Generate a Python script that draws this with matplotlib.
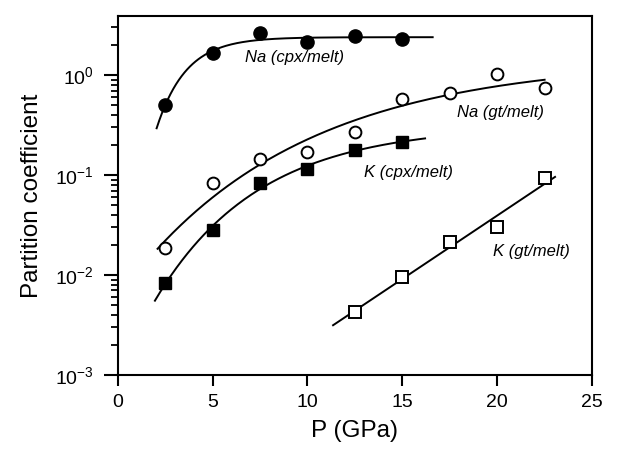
import numpy as np
import matplotlib
matplotlib.use("Agg")
import matplotlib.pyplot as plt
from matplotlib.ticker import LogLocator, FixedLocator

plt.rcParams['font.family'] = ['Liberation Sans', 'DejaVu Sans']
plt.rcParams['mathtext.fontset'] = 'custom'
plt.rcParams['mathtext.rm'] = 'Liberation Sans'
plt.rcParams['mathtext.it'] = 'Liberation Sans:italic'

# ---- data ----
P_na_cpx = [2.5, 5.0, 7.5, 10.0, 12.5, 15.0]
D_na_cpx = [0.50, 1.66, 2.63, 2.14, 2.45, 2.29]

P_na_gt = [2.5, 5.0, 7.5, 10.0, 12.5, 15.0, 17.5, 20.0, 22.5]
D_na_gt = [0.0186, 0.083, 0.144, 0.17, 0.27, 0.575, 0.66, 1.02, 0.74]

P_k_cpx = [2.5, 5.0, 7.5, 10.0, 12.5, 15.0]
D_k_cpx = [0.0083, 0.028, 0.083, 0.115, 0.178, 0.214]

P_k_gt = [12.5, 15.0, 17.5, 20.0, 22.5]
D_k_gt = [0.0043, 0.0095, 0.0214, 0.030, 0.093]

# extents of the fitted curves (GPa)
range_na_cpx = (2.05, 16.6)
range_na_gt = (2.1, 22.5)
range_k_cpx = (1.96, 16.2)
range_k_gt = (11.35, 23.05)

labels = ['Na (cpx/melt)', 'Na (gt/melt)', 'K (cpx/melt)', 'K (gt/melt)']
label_pos = [(6.7, 1.51), (17.9, 0.42), (13.0, 0.107), (19.8, 0.017)]

y_ticks = [1e-3, 1e-2, 1e-1, 1e0]
y_ticklabels = ['10$^{\\mathdefault{-3}}$', '10$^{\\mathdefault{-2}}$',
                '10$^{\\mathdefault{-1}}$', '10$^{\\mathdefault{0}}$']
x_ticks = [0, 5, 10, 15, 20, 25]


def fit_saturating(x, y):
    """fit log10 y = a - b*exp(-c x) by scanning c."""
    x = np.asarray(x, float)
    ly = np.log10(np.asarray(y, float))
    best = None
    for c in np.linspace(0.02, 1.5, 600):
        A = np.column_stack([np.ones_like(x), -np.exp(-c * x)])
        coef, res, *_ = np.linalg.lstsq(A, ly, rcond=None)
        r = np.sum((A @ coef - ly) ** 2)
        if best is None or r < best[0]:
            best = (r, coef[0], coef[1], c)
    _, a, b, c = best
    return lambda xx: 10 ** (a - b * np.exp(-c * xx))


def fit_loglinear(x, y):
    p = np.polyfit(np.asarray(x, float), np.log10(np.asarray(y, float)), 1)
    return lambda xx: 10 ** np.polyval(p, xx)


fig = plt.figure(figsize=(6.18, 4.49), dpi=100)
ax = fig.add_axes([0.1905, 0.1648, 0.958 - 0.1905, 0.965 - 0.1648])

lw = 1.4
for P, D, rng, fitter in [(P_na_cpx, D_na_cpx, range_na_cpx, fit_saturating),
                          (P_na_gt, D_na_gt, range_na_gt, fit_saturating),
                          (P_k_cpx, D_k_cpx, range_k_cpx, fit_saturating),
                          (P_k_gt, D_k_gt, range_k_gt, fit_loglinear)]:
    f = fitter(P, D)
    xx = np.linspace(rng[0], rng[1], 200)
    ax.plot(xx, f(xx), color='black', lw=lw, zorder=2)

ax.plot(P_na_cpx, D_na_cpx, 'o', ms=9.5, mfc='black', mec='black', zorder=3)
ax.plot(P_na_gt, D_na_gt, 'o', ms=8.5, mfc='white', mec='black', mew=1.4, zorder=3)
ax.plot(P_k_cpx, D_k_cpx, 's', ms=9, mfc='black', mec='black', zorder=3)
ax.plot(P_k_gt, D_k_gt, 's', ms=8.5, mfc='white', mec='black', mew=1.4, zorder=3)

for t, (x, y) in zip(labels, label_pos):
    ax.text(x, y, t, fontsize=12, style='italic', ha='left', va='center')

ax.set_yscale('log')
ax.set_xlim(0, 25)
ax.set_ylim(1e-3, 10 ** 0.593)
ax.set_xticks(x_ticks)
ax.yaxis.set_major_locator(FixedLocator(y_ticks))
ax.set_yticklabels(y_ticklabels)
ax.yaxis.set_minor_locator(LogLocator(base=10, subs=np.arange(2, 10)))

for s in ax.spines.values():
    s.set_linewidth(1.5)

ax.tick_params(axis='both', which='major', direction='out', length=8, width=1.5,
               labelsize=14, colors='black')
ax.tick_params(axis='y', which='major', length=10, pad=7)
ax.tick_params(axis='x', which='major', pad=6)
ax.tick_params(axis='y', which='minor', direction='out', length=5, width=1.3)

ax.set_xlabel('P (GPa)', fontsize=17.5, labelpad=6)
ax.set_ylabel('Partition coefficient', fontsize=17.5, labelpad=9)

fig.savefig('out.png', dpi=100)
